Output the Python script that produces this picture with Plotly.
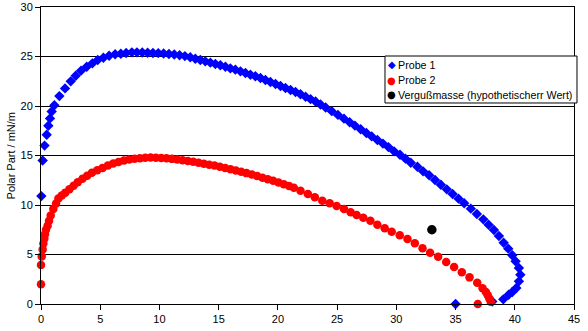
import plotly.graph_objects as go

# Probe 1: dispersive part (x) vs polar part (y), mN/m
probe1_x = [0.03, 0.14, 0.30, 0.48, 0.62, 0.76, 0.90, 1.13, 1.55, 2.03, 2.51, 2.93, 3.38, 3.86,
            4.34, 4.79, 5.27, 5.75, 6.26, 6.74, 7.19, 7.67, 8.10, 8.55, 9.00, 9.45, 9.90, 10.35,
            10.80, 11.25, 11.70, 12.15, 12.60, 13.03, 13.45, 13.87, 14.30, 14.72, 15.14, 15.57,
            15.99, 16.41, 16.84, 17.26, 17.68, 18.10, 18.53, 18.95, 19.37, 19.80, 20.22, 20.64,
            21.07, 21.49, 21.91, 22.34, 22.76, 23.18, 23.60, 24.03, 24.55, 25.07, 25.58, 26.06,
            26.50, 26.99, 27.47, 27.92, 28.40, 28.87, 29.33, 29.81, 30.31, 30.77, 31.22, 31.78,
            32.26, 32.77, 33.27, 33.76, 34.26, 34.75, 35.25, 35.73, 36.29, 36.80, 37.34, 37.79,
            38.24, 38.66, 39.06, 39.45, 39.79, 40.07, 40.35, 40.47, 40.35, 40.13, 39.79, 39.48,
            39.03, 38.10, 35.00]
probe1_y = [10.9, 14.5, 16.0, 17.1, 18.0, 18.75, 19.45, 20.07, 21.0, 21.78, 22.49, 23.06, 23.57, 23.97,
            24.31, 24.65, 24.88, 25.08, 25.22, 25.28, 25.35, 25.42, 25.42, 25.40, 25.38, 25.36, 25.34, 25.30,
            25.26, 25.20, 25.13, 25.04, 24.93, 24.78, 24.65, 24.51, 24.38, 24.24, 24.11, 23.97,
            23.80, 23.67, 23.50, 23.33, 23.16, 23.00, 22.83, 22.63, 22.42, 22.22, 22.02, 21.82,
            21.62, 21.41, 21.18, 20.94, 20.69, 20.45, 20.15, 19.85, 19.48, 19.10, 18.72, 18.36,
            18.02, 17.65, 17.28, 16.93, 16.56, 16.20, 15.85, 15.42, 15.08, 14.68, 14.27, 13.87,
            13.40, 13.00, 12.53, 12.05, 11.58, 11.11, 10.64, 10.17, 9.63, 9.09, 8.55, 8.01,
            7.47, 6.87, 6.19, 5.59, 4.92, 4.31, 3.64, 2.96, 2.29, 1.62, 1.21, 0.94,
            0.47, 0.25, 0.0]

# Probe 2
probe2_x = [0.00, 0.00, 0.06, 0.14, 0.20, 0.28, 0.34, 0.42, 0.56, 0.68, 0.82, 1.04, 1.27, 1.47,
            1.75, 2.05, 2.40, 2.75, 3.10, 3.50, 3.90, 4.30, 4.75, 5.20, 5.65, 6.10, 6.55, 7.00,
            7.45, 7.90, 8.35, 8.80, 9.25, 9.70, 10.15, 10.60, 11.05, 11.50, 11.95, 12.40, 12.85,
            13.30, 13.75, 14.20, 14.65, 15.10, 15.55, 16.00, 16.45, 16.90, 17.35, 17.80, 18.25,
            18.70, 19.15, 19.60, 20.05, 20.50, 20.95, 21.35, 21.91, 22.53, 23.12, 23.75, 24.37,
            24.96, 25.58, 26.14, 26.65, 27.21, 27.81, 28.40, 29.02, 29.61, 30.29, 30.94, 31.56,
            32.21, 32.85, 33.53, 34.21, 34.88, 35.53, 36.18, 36.83, 37.28, 37.56, 37.72, 37.85,
            37.97, 36.88]
probe2_y = [2.0, 3.95, 4.8, 5.5, 6.1, 6.6, 7.05, 7.5, 7.9, 8.4, 8.95, 9.6, 10.15, 10.65,
            10.95, 11.25, 11.6, 11.95, 12.3, 12.65, 12.95, 13.25, 13.5, 13.75, 14.0, 14.2, 14.35, 14.5,
            14.6, 14.67, 14.73, 14.78, 14.8, 14.78, 14.75, 14.72, 14.66, 14.6, 14.52, 14.45, 14.36,
            14.27, 14.17, 14.07, 13.98, 13.87, 13.74, 13.62, 13.49, 13.36, 13.22, 13.07, 12.92,
            12.76, 12.6, 12.44, 12.28, 12.1, 11.93, 11.75, 11.45, 11.11, 10.78, 10.44, 10.17,
            9.9, 9.6, 9.26, 8.99, 8.72, 8.41, 8.01, 7.64, 7.3, 6.94, 6.57, 6.13,
            5.62, 5.18, 4.78, 4.24, 3.74, 3.2, 2.69, 2.15, 1.6, 1.22, 0.88, 0.55,
            0.23, 0.0]

# Potting compound (hypothetical value)
verguss_x = [33.0]
verguss_y = [7.5]

series_names = ["Probe 1", "Probe 2", "Vergußmasse (hypothetischerr Wert)"]
series_colors = ["#0000FF", "#FF0000", "#000000"]
legend_glyphs = ["◆", "●", "●"]

FONT = "Liberation Sans, Arial, sans-serif"

fig = go.Figure()
fig.add_trace(go.Scatter(x=probe1_x, y=probe1_y, mode="markers", name=series_names[0],
                         marker=dict(symbol="diamond", size=8, color=series_colors[0]),
                         cliponaxis=False))
fig.add_trace(go.Scatter(x=probe2_x, y=probe2_y, mode="markers", name=series_names[1],
                         marker=dict(symbol="circle", size=8.5, color=series_colors[1]),
                         cliponaxis=False))
fig.add_trace(go.Scatter(x=verguss_x, y=verguss_y, mode="markers", name=series_names[2],
                         marker=dict(symbol="circle", size=9.5, color=series_colors[2]),
                         cliponaxis=False))

# Boxed legend in the upper right of the plot area
lx0, lx1, ly0, ly1 = 0.6454, 1.0056, 0.6768, 0.835
shapes = [dict(type="rect", xref="paper", yref="paper", x0=lx0, x1=lx1, y0=ly0, y1=ly1,
               line=dict(color="black", width=1), fillcolor="white", layer="above")]
annotations = []
row_y = [0.806, 0.753, 0.705]
for name, col, glyph, yy in zip(series_names, series_colors, legend_glyphs, row_y):
    annotations.append(dict(xref="paper", yref="paper", x=lx0 + 0.0125, y=yy, text=glyph,
                            showarrow=False, xanchor="center", yanchor="middle",
                            font=dict(family="DejaVu Sans", size=10, color=col)))
    annotations.append(dict(xref="paper", yref="paper", x=lx0 + 0.021, y=yy, text=name,
                            showarrow=False, xanchor="left", yanchor="middle",
                            font=dict(family=FONT, size=10.7, color="black")))

# Rotated y-axis title placed in the left margin
annotations.append(dict(xref="paper", yref="paper", x=-0.0565, y=0.5, text="Polar Part / mN/m",
                        textangle=-90, showarrow=False, xanchor="center", yanchor="middle",
                        font=dict(family=FONT, size=11, color="black")))

fig.update_layout(
    width=588, height=331,
    margin=dict(l=41, r=14, t=7, b=27, autoexpand=False),
    paper_bgcolor="white", plot_bgcolor="white",
    showlegend=False,
    font=dict(family=FONT, size=11, color="black"),
    shapes=shapes, annotations=annotations,
)
fig.update_xaxes(range=[0, 45], dtick=5, tick0=0, ticks="outside", ticklen=5, tickcolor="black",
                 showline=True, linecolor="black", linewidth=1, mirror=True, automargin=False,
                 showgrid=False, zeroline=False, tickfont=dict(size=11))
fig.update_yaxes(range=[0, 30], dtick=5, tick0=0, ticks="outside", ticklen=5, tickcolor="black",
                 showline=True, linecolor="black", linewidth=1, mirror=True, automargin=False,
                 showgrid=True, gridcolor="black", gridwidth=1, zeroline=False,
                 tickfont=dict(size=11))

fig.write_html("out.html")
